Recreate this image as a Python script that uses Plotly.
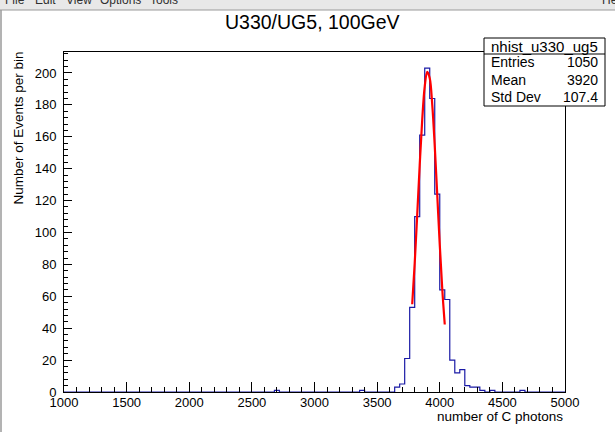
import numpy as np
import plotly.graph_objects as go

# ---------------- data ----------------
hist_name = "nhist_u330_ug5"
title_text = "U330/UG5, 100GeV"
x_title = "number of C photons"
y_title = "Number of Events per bin"

x_min, x_max, bin_width = 1000, 5000, 40
# lower edges of the non-empty bins and their contents
bin_low = [2680, 3360, 3640, 3680, 3720, 3760, 3800, 3840, 3880, 3920, 3960,
           4000, 4040, 4080, 4120, 4160, 4200, 4240, 4280, 4320, 4400, 4640]
bin_counts = [1, 1, 3, 5, 21, 53, 110, 161, 203, 184, 124,
              64, 58, 20, 12, 14, 4, 3, 3, 1, 1, 1]

# gaussian fit curve as drawn (red)
fit_x = [3780, 3800, 3820, 3840, 3860, 3880, 3900, 3920, 3940, 3960, 3980, 4000, 4020, 4040]
fit_y = [55, 80.7, 110.9, 142.3, 170.7, 191.5, 200.7, 196.7, 180.2, 154.3, 123.5, 92.4, 64.6, 42.3]

stats_labels = ["Entries", "Mean", "Std Dev"]
stats_values = ["1050", "3920", "107.4"]

x_tick_vals = [1000, 1500, 2000, 2500, 3000, 3500, 4000, 4500, 5000]
y_tick_vals = [0, 20, 40, 60, 80, 100, 120, 140, 160, 180, 200]
y_max = 213.15

menu_items = ["File", "Edit", "View", "Options", "Tools"]
# ---------------------------------------------------------------

W, H = 615, 432
L, R, T, B = 64, 50, 52, 40
PW, PH = W - L - R, H - T - B


def px(x):
    return (x - L) / PW


def py(y):
    return (H - B - y) / PH


edges = np.arange(x_min, x_max + bin_width, bin_width)
counts = np.zeros(len(edges) - 1)
for lo, c in zip(bin_low, bin_counts):
    counts[int(round((lo - x_min) / bin_width))] = c
step_y = np.append(counts, counts[-1])

FONT = "Liberation Sans, Arial, Helvetica, sans-serif"

fig = go.Figure()
fig.add_trace(go.Scatter(x=edges, y=step_y, mode="lines", line_shape="hv",
                         line=dict(color="#1a1aa6", width=1.2), hoverinfo="skip",
                         showlegend=False))
fig.add_trace(go.Scatter(x=fit_x, y=fit_y, mode="lines", line_shape="spline",
                         line=dict(color="#ff0000", width=2.2), hoverinfo="skip",
                         showlegend=False))

axis_common = dict(showline=True, linecolor="black", linewidth=1, mirror=True,
                   ticks="inside", tickcolor="black", tickwidth=1, showgrid=False,
                   zeroline=False, tickfont=dict(family=FONT, size=13, color="black"))

fig.update_xaxes(range=[x_min, x_max], tickvals=x_tick_vals, ticklen=10,
                 minor=dict(dtick=100, ticks="inside", ticklen=5, tickcolor="black"),
                 ticklabelstandoff=-2, **axis_common)
fig.update_yaxes(range=[0, y_max], tickvals=y_tick_vals, ticklen=8,
                 minor=dict(dtick=4, ticks="inside", ticklen=4, tickcolor="black"),
                 ticklabelstandoff=4, **axis_common)

shapes = []
annotations = []

# window chrome: menu bar and border
shapes.append(dict(type="rect", xref="paper", yref="paper", x0=px(-5), x1=px(W + 5),
                   y0=py(10), y1=py(-5), fillcolor="#e8e8e8", line=dict(width=0),
                   layer="above"))
shapes.append(dict(type="line", xref="paper", yref="paper", x0=px(0), x1=px(W),
                   y0=py(10), y1=py(10), line=dict(color="#9a9a9a", width=1)))
shapes.append(dict(type="line", xref="paper", yref="paper", x0=px(1), x1=px(1),
                   y0=py(10), y1=py(H + 2), line=dict(color="#9a9a9a", width=1.5)))
menu_x = [3, 33, 64, 98, 148]
for t, mx in zip(menu_items, menu_x):
    annotations.append(dict(text=t, xref="paper", yref="paper", x=px(mx), y=py(0),
                            xanchor="left", yanchor="middle", showarrow=False,
                            font=dict(family=FONT, size=12, color="#303030")))
annotations.append(dict(text="Help", xref="paper", yref="paper", x=px(600), y=py(0),
                        xanchor="left", yanchor="middle", showarrow=False,
                        font=dict(family=FONT, size=12, color="#303030")))

# title
annotations.append(dict(text=title_text, xref="paper", yref="paper", x=px(312), y=py(22),
                        xanchor="center", yanchor="middle", showarrow=False,
                        font=dict(family=FONT, size=19.5, color="black")))
# axis titles
annotations.append(dict(text=x_title, xref="paper", yref="paper", x=px(565), y=py(416),
                        xanchor="right", yanchor="middle", showarrow=False,
                        font=dict(family=FONT, size=13.5, color="black")))
annotations.append(dict(text=y_title, xref="paper", yref="paper", x=px(18), y=py(50),
                        xanchor="center", yanchor="top", textangle=-90, showarrow=False,
                        font=dict(family=FONT, size=13.5, color="black")))

# stats box
bx0, bx1, by0, by1, bsep = 484, 605, 38, 106, 54
shapes.append(dict(type="rect", xref="paper", yref="paper", x0=px(bx0), x1=px(bx1),
                   y0=py(by1), y1=py(by0), fillcolor="white",
                   line=dict(color="black", width=1), layer="above"))
shapes.append(dict(type="line", xref="paper", yref="paper", x0=px(bx0), x1=px(bx1),
                   y0=py(bsep), y1=py(bsep), line=dict(color="black", width=1),
                   layer="above"))
annotations.append(dict(text=hist_name, xref="paper", yref="paper", x=px((bx0 + bx1) / 2),
                        y=py(46), xanchor="center", yanchor="middle", showarrow=False,
                        font=dict(family=FONT, size=15, color="black")))
row_y = [62, 80, 97]
for lab, val, ry in zip(stats_labels, stats_values, row_y):
    annotations.append(dict(text=lab, xref="paper", yref="paper", x=px(bx0 + 5), y=py(ry),
                            xanchor="left", yanchor="middle", showarrow=False,
                            font=dict(family=FONT, size=14, color="black")))
    annotations.append(dict(text=val, xref="paper", yref="paper", x=px(bx1 - 5), y=py(ry),
                            xanchor="right", yanchor="middle", showarrow=False,
                            font=dict(family=FONT, size=14, color="black")))

fig.update_layout(width=W, height=H, margin=dict(l=L, r=R, t=T, b=B, autoexpand=False),
                  paper_bgcolor="white", plot_bgcolor="white",
                  shapes=shapes, annotations=annotations, showlegend=False,
                  font=dict(family=FONT))

fig.write_html("out.html")
